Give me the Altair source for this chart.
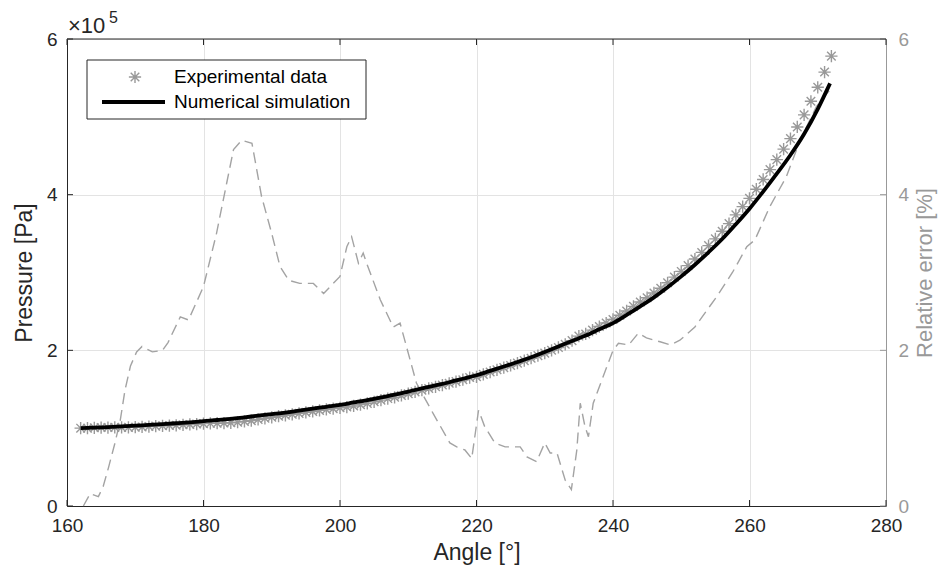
import altair as alt
import pandas as pd

# ---------------- data ----------------
exp_angle = [162, 163, 164, 165, 166, 167, 168, 169, 170, 171, 172, 173, 174, 175, 176, 177, 178, 179,
             180, 181, 182, 183, 184, 185, 186, 187, 188, 189, 190, 191, 192, 193, 194, 195, 196, 197,
             198, 199, 200, 201, 202, 203, 204, 205, 206, 207, 208, 209, 210, 211, 212, 213, 214, 215,
             216, 217, 218, 219, 220, 221, 222, 223, 224, 225, 226, 227, 228, 229, 230, 231, 232, 233,
             234, 235, 236, 237, 238, 239, 240, 241, 242, 243, 244, 245, 246, 247, 248, 249, 250, 251,
             252, 253, 254, 255, 256, 257, 258, 259, 260, 261, 262, 263, 264, 265, 266, 267, 268, 269,
             270, 271, 272]
exp_pressure = [1.000, 1.000, 1.005, 1.008, 1.008, 1.010, 1.009, 1.010, 1.012, 1.016, 1.021, 1.026,
                1.031, 1.034, 1.037, 1.043, 1.048, 1.053, 1.058, 1.062, 1.064, 1.066, 1.069, 1.077,
                1.087, 1.097, 1.113, 1.127, 1.140, 1.154, 1.165, 1.178, 1.190, 1.203, 1.215, 1.228,
                1.240, 1.251, 1.262, 1.271, 1.285, 1.302, 1.318, 1.339, 1.360, 1.380, 1.397, 1.420,
                1.443, 1.466, 1.488, 1.510, 1.532, 1.554, 1.577, 1.598, 1.623, 1.650, 1.660, 1.691,
                1.721, 1.750, 1.778, 1.806, 1.836, 1.868, 1.899, 1.932, 1.964, 2.001, 2.037, 2.078,
                2.125, 2.183, 2.210, 2.260, 2.306, 2.351, 2.397, 2.450, 2.506, 2.565, 2.621, 2.676,
                2.737, 2.798, 2.868, 2.941, 3.014, 3.088, 3.173, 3.258, 3.345, 3.432, 3.530, 3.628,
                3.740, 3.847, 3.952, 4.070, 4.195, 4.322, 4.450, 4.585, 4.720, 4.870, 5.025, 5.200,
                5.380, 5.575, 5.780]

sim_angle = [162, 164, 166, 168, 170, 172, 174, 176, 178, 180, 182, 184, 186, 188, 190, 192, 194,
             196, 198, 200, 202, 204, 206, 208, 210, 212, 214, 216, 218, 220, 222, 224, 226, 228,
             230, 232, 234, 236, 238, 240, 242, 244, 246, 248, 250, 252, 254, 256, 258, 260, 262,
             264, 266, 268, 270, 271.8]
sim_pressure = [1.000, 1.006, 1.014, 1.022, 1.032, 1.042, 1.052, 1.063, 1.075, 1.090, 1.105, 1.120,
                1.140, 1.160, 1.180, 1.200, 1.225, 1.250, 1.275, 1.300, 1.330, 1.360, 1.395, 1.430,
                1.470, 1.510, 1.550, 1.590, 1.635, 1.680, 1.736, 1.792, 1.850, 1.910, 1.980, 2.050,
                2.120, 2.190, 2.270, 2.350, 2.455, 2.565, 2.680, 2.810, 2.950, 3.100, 3.260, 3.430,
                3.620, 3.820, 4.040, 4.270, 4.510, 4.780, 5.100, 5.430]

err_angle = [162.4, 163.4, 164.6, 165.3, 166.1, 167.0, 167.8, 168.5, 169.3, 170.2, 171.0, 172.5,
             174.0, 174.8, 176.6, 177.8, 180.0, 181.9, 183.4, 184.4, 185.6, 187.1, 188.5, 190.0,
             191.2, 192.5, 194.1, 196.1, 197.6, 200.0, 201.0, 201.7, 202.7, 203.4, 203.9, 205.9,
             207.8, 208.8, 211.2, 213.7, 216.1, 217.1, 218.3, 219.3, 220.3, 221.2, 222.7, 224.2,
             226.4, 227.4, 228.8, 230.0, 230.8, 231.8, 233.0, 233.9, 234.7, 235.2, 235.9, 236.4,
             237.1, 239.1, 240.0, 240.8, 242.3, 243.7, 244.9, 246.9, 248.4, 249.8, 252.0, 255.2,
             257.5, 259.6, 260.8, 263.0, 265.4, 266.9, 268.4, 269.8, 271.8]
err_value = [0.00, 0.16, 0.12, 0.25, 0.50, 0.80, 1.10, 1.49, 1.80, 1.98, 2.05, 1.98,
             2.00, 2.10, 2.43, 2.39, 2.82, 3.50, 4.15, 4.58, 4.70, 4.66, 3.98, 3.50,
             3.08, 2.90, 2.86, 2.86, 2.73, 2.95, 3.33, 3.46, 3.12, 3.25, 3.12, 2.65,
             2.30, 2.35, 1.58, 1.18, 0.81, 0.76, 0.72, 0.61, 1.23, 1.02, 0.81, 0.76,
             0.76, 0.63, 0.57, 0.81, 0.68, 0.68, 0.33, 0.21, 0.72, 1.32, 1.02, 0.89,
             1.32, 1.79, 2.00, 2.09, 2.07, 2.22, 2.16, 2.11, 2.07, 2.13, 2.30, 2.69,
             3.00, 3.33, 3.42, 3.85, 4.23, 4.58, 4.88, 5.13, 5.35]

x_ticks = [160, 180, 200, 220, 240, 260, 280]
y_ticks = [0, 2, 4, 6]
legend_labels = ["Experimental data", "Numerical simulation"]

# ---------------- style ----------------
W, H = 819, 467
FONT = "Liberation Sans"
DARK = "#262626"
GRAY = "#999999"
GRID = "#e3e3e3"
ASTERISK = "M-1,0L1,0M0,-1L0,1M-0.7,-0.7L0.7,0.7M-0.7,0.7L0.7,-0.7"
STAR_SIZE = 150


def xq(field):
    return alt.X(f"{field}:Q",
                 scale=alt.Scale(domain=[160, 280], nice=False, zero=False),
                 axis=alt.Axis(values=x_ticks, title="Angle [°]", grid=True, gridColor=GRID,
                               ticks=False, domainColor=DARK, labelColor=DARK, titleColor=DARK,
                               labelFontSize=19, titleFontSize=23, labelPadding=10,
                               labelFlush=False, titlePadding=6, labelFont=FONT, titleFont=FONT,
                               titleFontWeight="normal"))


def yl(field):
    return alt.Y(f"{field}:Q",
                 scale=alt.Scale(domain=[0, 6], nice=False, zero=False),
                 axis=alt.Axis(orient="left", values=y_ticks, title="Pressure [Pa]", grid=True,
                               gridColor=GRID, ticks=False, domainColor=DARK, labelColor=DARK,
                               titleColor=DARK, labelFontSize=19, titleFontSize=23,
                               labelPadding=10, labelFlush=False, titlePadding=10, labelFont=FONT,
                               titleFont=FONT, titleFontWeight="normal"))


def yr(field):
    return alt.Y(f"{field}:Q",
                 scale=alt.Scale(domain=[0, 6], nice=False, zero=False),
                 axis=alt.Axis(orient="right", values=y_ticks, title="Relative error [%]",
                               grid=False, ticks=False, domainColor=GRAY, labelColor=GRAY,
                               titleColor=GRAY, labelFontSize=19, titleFontSize=22,
                               labelPadding=12, labelFlush=False, titlePadding=6,
                               titleAngle=270, titleBaseline="top", labelFont=FONT,
                               titleFont=FONT, titleFontWeight="normal"))


exp_df = pd.DataFrame({"angle": exp_angle, "p": exp_pressure})
sim_df = pd.DataFrame({"angle": sim_angle, "p": sim_pressure})
err_df = pd.DataFrame({"angle": err_angle, "e": err_value})
xt_df = pd.DataFrame({"v": x_ticks})
yt_df = pd.DataFrame({"v": y_ticks})
one = pd.DataFrame({"k": [0]})

# ---------------- right-axis group (relative error) ----------------
err_line = alt.Chart(err_df).mark_line(color="#a3a3a3", strokeWidth=1.4,
                                       strokeDash=[11, 6]).encode(
    x=xq("angle"), y=yr("e"), order="angle:Q")
right_ticks = alt.Chart(yt_df).mark_rule(color=GRAY, strokeWidth=1).encode(
    y=yr("v"), x=alt.value(W), x2=alt.value(W - 6))
right_group = alt.layer(err_line, right_ticks)

# ---------------- left-axis group (pressure) ----------------
stars = alt.Chart(exp_df).mark_point(shape=ASTERISK, size=STAR_SIZE, filled=False, color=GRAY,
                                     strokeWidth=1.4, opacity=1).encode(
    x=xq("angle"), y=yl("p"))
sim_line = alt.Chart(sim_df).mark_line(color="black", strokeWidth=3.8,
                                       interpolate="monotone").encode(
    x=xq("angle"), y=yl("p"), order="angle:Q")

bottom_ticks = alt.Chart(xt_df).mark_rule(color=DARK, strokeWidth=1).encode(
    x=xq("v"), y=alt.value(H), y2=alt.value(H - 6))
top_ticks = alt.Chart(xt_df).mark_rule(color=DARK, strokeWidth=1).encode(
    x=xq("v"), y=alt.value(0), y2=alt.value(6))
left_ticks = alt.Chart(yt_df).mark_rule(color=DARK, strokeWidth=1).encode(
    y=yl("v"), x=alt.value(0), x2=alt.value(6))
top_border = alt.Chart(one).mark_rule(color=DARK, strokeWidth=1).encode(
    x=alt.value(0), x2=alt.value(W), y=alt.value(0))

exp10 = alt.Chart(pd.DataFrame({"t": ["×10"]})).mark_text(
    align="left", baseline="alphabetic", font=FONT, fontSize=22, color=DARK).encode(
    x=alt.value(1), y=alt.value(-6), text="t:N")
exp5 = alt.Chart(pd.DataFrame({"t": ["5"]})).mark_text(
    align="left", baseline="alphabetic", font=FONT, fontSize=16, color=DARK).encode(
    x=alt.value(42), y=alt.value(-16), text="t:N")

# legend box (manual, MATLAB style)
leg_box = alt.Chart(one).mark_rect(fill="white", stroke=DARK, strokeWidth=1).encode(
    x=alt.value(20), x2=alt.value(299), y=alt.value(21), y2=alt.value(80))
leg_star = alt.Chart(one).mark_point(shape=ASTERISK, size=STAR_SIZE, filled=False, color=GRAY,
                                     strokeWidth=1.4, opacity=1).encode(
    x=alt.value(68), y=alt.value(38))
leg_line = alt.Chart(one).mark_rule(color="black", strokeWidth=3.8).encode(
    x=alt.value(35), x2=alt.value(98), y=alt.value(63))
leg_text1 = alt.Chart(pd.DataFrame({"t": [legend_labels[0]]})).mark_text(
    align="left", baseline="middle", font=FONT, fontSize=19, color="black").encode(
    x=alt.value(107), y=alt.value(38), text="t:N")
leg_text2 = alt.Chart(pd.DataFrame({"t": [legend_labels[1]]})).mark_text(
    align="left", baseline="middle", font=FONT, fontSize=19, color="black").encode(
    x=alt.value(107), y=alt.value(63), text="t:N")

left_group = alt.layer(stars, sim_line, bottom_ticks, top_ticks, left_ticks, top_border,
                       exp10, exp5, leg_box, leg_star, leg_line, leg_text1, leg_text2)

chart = alt.layer(right_group, left_group).resolve_scale(y="independent").properties(
    width=W, height=H,
    autosize=alt.AutoSizeParams(type="none"),
    padding={"left": 59, "top": 31, "right": 54, "bottom": 59},
).configure_view(stroke="transparent").configure(background="white")

chart.save("out.html", embed_options={"renderer": "svg", "actions": False})
